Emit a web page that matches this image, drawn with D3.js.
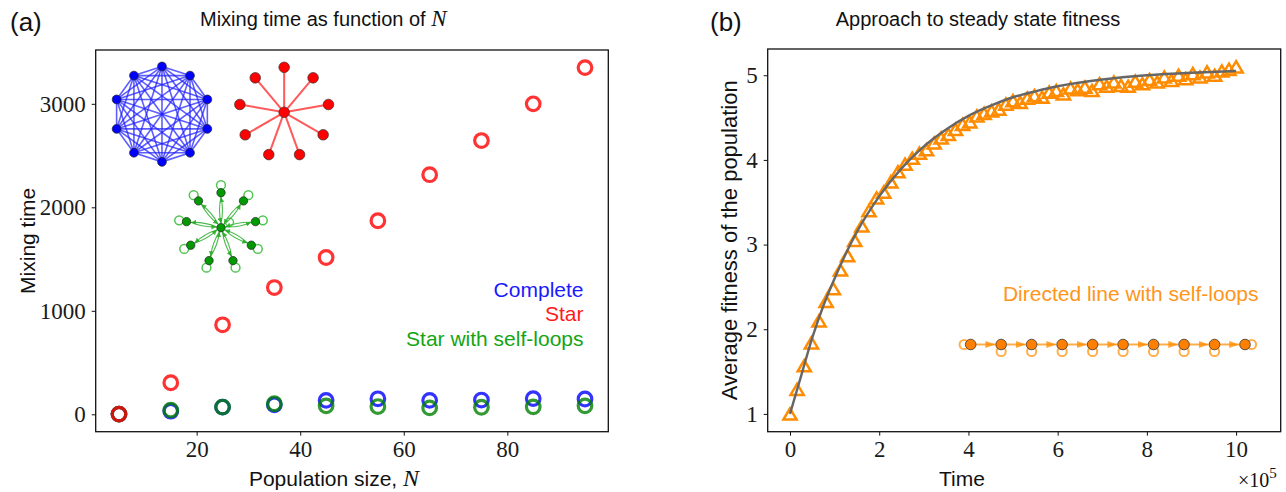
<!DOCTYPE html>
<html>
<head>
<meta charset="utf-8">
<script src="https://cdn.jsdelivr.net/npm/d3@7"></script>
<style>
  body { margin: 0; background: #fff; }
  svg text { font-family: "Liberation Sans", Arial, sans-serif; fill: #111; }
  .tick text { font-family: "Liberation Serif", "Times New Roman", serif; font-size: 23px; fill: #1a1a1a; }
  .tick line { stroke: #111; stroke-width: 1; }
</style>
</head>
<body>
<div id="chart"></div>
<script>
// panel (a): mixing time vs population size
const popSize = [5, 15, 25, 35, 45, 55, 65, 75, 85, 95];
const mixComplete = [2, 30, 70, 92, 135, 150, 135, 138, 152, 148];
const mixSelfLoops = [2, 40, 70, 102, 82, 75, 62, 68, 72, 82];
const mixStar = [2, 305, 865, 1225, 1515, 1870, 2315, 2645, 3000, 3350];
const ticksAx = [20, 40, 60, 80];
const ticksAy = [0, 1000, 2000, 3000];

// panel (b): average fitness over time (time in units of 1e5)
const fitTime = [0, 0.16, 0.32, 0.48, 0.65, 0.81, 0.97, 1.13, 1.29, 1.45, 1.61, 1.77, 1.94, 2.10, 2.26, 2.42,
  2.58, 2.74, 2.90, 3.06, 3.23, 3.39, 3.55, 3.71, 3.87, 4.03, 4.19, 4.35, 4.52, 4.68, 4.84, 5.00,
  5.16, 5.32, 5.48, 5.65, 5.81, 5.97, 6.13, 6.29, 6.45, 6.61, 6.77, 6.94, 7.10, 7.26, 7.42, 7.58,
  7.74, 7.90, 8.06, 8.23, 8.39, 8.55, 8.71, 8.87, 9.03, 9.19, 9.35, 9.52, 9.68, 9.84, 10.00];
const fitValue = [1.00, 1.29, 1.57, 1.84, 2.10, 2.33, 2.48, 2.70, 2.87, 3.05, 3.22, 3.40, 3.55, 3.62, 3.74, 3.86,
  3.95, 4.02, 4.08, 4.12, 4.20, 4.26, 4.30, 4.36, 4.42, 4.45, 4.52, 4.55, 4.58, 4.60, 4.66, 4.70,
  4.68, 4.73, 4.76, 4.74, 4.80, 4.82, 4.78, 4.85, 4.83, 4.86, 4.82, 4.90, 4.87, 4.92, 4.88, 4.87,
  4.93, 4.90, 4.95, 4.92, 4.98, 4.94, 5.00, 4.96, 5.02, 4.98, 5.04, 5.00, 5.05, 5.07, 5.10];
const curveTime = [0, 0.25, 0.5, 0.75, 1, 1.5, 2, 2.5, 3, 3.5, 4, 4.5, 5, 5.5, 6, 7, 8, 9, 10];
const curveValue = [1.0, 1.45, 1.90, 2.28, 2.60, 3.15, 3.57, 3.90, 4.16, 4.36, 4.52, 4.64, 4.74, 4.81, 4.87, 4.95, 5.00, 5.03, 5.05];
const ticksBx = [0, 2, 4, 6, 8, 10];
const ticksBy = [1, 2, 3, 4, 5];

const svg = d3.select("#chart").append("svg")
    .attr("width", 1286)
    .attr("height", 492);
const defs = svg.append("defs");

const A = { left: 95.7, right: 608.3, top: 50, bottom: 431.7 };
const B = { left: 767.7, right: 1280.7, top: 49, bottom: 431.7 };

const xA = d3.scaleLinear().domain([0.5, 99.5]).range([A.left, A.right]);
const yA = d3.scaleLinear().domain([-168, 3520]).range([A.bottom, A.top]);
const xB = d3.scaleLinear().domain([-0.5, 11]).range([B.left, B.right]);
const yB = d3.scaleLinear().domain([0.79, 5.31]).range([B.bottom, B.top]);

function arrowMarker(id, color, len, hw, opacity) {
  defs.append("marker")
      .attr("id", id)
      .attr("viewBox", `0 ${-hw} ${len} ${2 * hw}`)
      .attr("refX", len).attr("refY", 0)
      .attr("markerWidth", len).attr("markerHeight", 2 * hw)
      .attr("markerUnits", "userSpaceOnUse")
      .attr("orient", "auto")
    .append("path")
      .attr("d", `M0,${-hw}L${len},0L0,${hw}Z`)
      .attr("fill", color)
      .attr("fill-opacity", opacity);
}
arrowMarker("arrG", "#22aa22", 5, 2.4, 0.85);
arrowMarker("arrO", "#ff8c00", 10, 3.6, 0.75);

function drawAxes(box, x, y, xt, yt) {
  svg.append("g")
      .attr("transform", `translate(0,${box.bottom})`)
      .call(d3.axisBottom(x).tickValues(xt).tickSize(4).tickPadding(5).tickFormat(d3.format("d")))
      .call(g => g.select(".domain").remove());
  svg.append("g")
      .attr("transform", `translate(${box.left},0)`)
      .call(d3.axisLeft(y).tickValues(yt).tickSize(4).tickPadding(6).tickFormat(d3.format("d")))
      .call(g => g.select(".domain").remove());
  svg.append("rect")
      .attr("x", box.left).attr("y", box.top)
      .attr("width", box.right - box.left).attr("height", box.bottom - box.top)
      .style("fill", "none").style("stroke", "#111").style("stroke-width", 1.3);
}

function ring(cx, cy, r, n) {
  return d3.range(n).map(i => {
    const a = -Math.PI / 2 + i * 2 * Math.PI / n;
    return { x: cx + r * Math.cos(a), y: cy + r * Math.sin(a), a: a };
  });
}

// ---------- panel (a) ----------
drawAxes(A, xA, yA, ticksAx, ticksAy);

// complete graph inset
const kPts = ring(xA(13.3), yA(2900), 47.7, 10);
const kEdges = d3.cross(d3.range(10), d3.range(10)).filter(([i, j]) => i < j);
svg.append("g").selectAll("line").data(kEdges).join("line")
    .attr("x1", d => kPts[d[0]].x).attr("y1", d => kPts[d[0]].y)
    .attr("x2", d => kPts[d[1]].x).attr("y2", d => kPts[d[1]].y)
    .style("stroke", "#2020ff").style("stroke-opacity", 0.72).style("stroke-width", 1.6);
svg.append("g").selectAll("circle").data(kPts).join("circle")
    .attr("cx", d => d.x).attr("cy", d => d.y).attr("r", 4.4)
    .style("fill", "#0000ff").style("stroke", "#222").style("stroke-width", 0.7);

// star inset
const sC = { x: xA(36.9), y: yA(2918) };
const sPts = ring(sC.x, sC.y, 45, 9);
svg.append("g").selectAll("line").data(sPts).join("line")
    .attr("x1", sC.x).attr("y1", sC.y).attr("x2", d => d.x).attr("y2", d => d.y)
    .style("stroke", "#ff2222").style("stroke-opacity", 0.75).style("stroke-width", 2);
svg.append("g").selectAll("circle").data(sPts.concat([sC])).join("circle")
    .attr("cx", d => d.x).attr("cy", d => d.y).attr("r", 5.3)
    .style("fill", "#ff0000").style("stroke", "#333").style("stroke-width", 0.7);

// star with self-loops inset
const gC = { x: xA(24.7), y: yA(1803) };
const gPts = ring(gC.x, gC.y, 35, 9);
const gArcs = [];
gPts.forEach(p => { gArcs.push([gC, p]); gArcs.push([p, gC]); });
const nodeR = 4.2;
svg.append("g").selectAll("path").data(gArcs).join("path")
    .attr("d", ([s, t]) => {
      const dx = t.x - s.x, dy = t.y - s.y, L = Math.hypot(dx, dy);
      const ux = dx / L, uy = dy / L;
      const x1 = s.x + ux * nodeR, y1 = s.y + uy * nodeR;
      const x2 = t.x - ux * (nodeR + 0.5), y2 = t.y - uy * (nodeR + 0.5);
      const mx = (x1 + x2) / 2 - uy * 3, my = (y1 + y2) / 2 + ux * 3;
      return `M${x1},${y1}Q${mx},${my} ${x2},${y2}`;
    })
    .attr("marker-end", "url(#arrG)")
    .style("fill", "none").style("stroke", "#22aa22").style("stroke-opacity", 0.8).style("stroke-width", 1.1);
svg.append("g").selectAll("circle").data(gPts).join("circle")
    .attr("cx", d => d.x + Math.cos(d.a) * 7.5).attr("cy", d => d.y + Math.sin(d.a) * 7.5).attr("r", 4.4)
    .style("fill", "none").style("stroke", "#33bb33").style("stroke-opacity", 0.85).style("stroke-width", 1.5);
svg.append("circle")
    .attr("cx", gC.x + 8.5).attr("cy", gC.y - 5.5).attr("r", 4)
    .style("fill", "none").style("stroke", "#33bb33").style("stroke-opacity", 0.85).style("stroke-width", 1.4);
svg.append("g").selectAll("circle").data(gPts.concat([gC])).join("circle")
    .attr("cx", d => d.x).attr("cy", d => d.y).attr("r", nodeR)
    .style("fill", "#009a00").style("stroke", "#222").style("stroke-width", 0.7);

// mixing-time markers
const seriesA = [
  { vals: mixComplete, color: "#0000ff" },
  { vals: mixSelfLoops, color: "#008000" },
  { vals: mixStar, color: "#ff0000" }
];
seriesA.forEach(s => {
  svg.append("g").selectAll("circle").data(popSize).join("circle")
      .attr("cx", d => xA(d)).attr("cy", (d, i) => yA(s.vals[i])).attr("r", 6.8)
      .style("fill", "none").style("stroke", s.color).style("stroke-opacity", 0.8).style("stroke-width", 3.2);
});

// legend text
const legendA = [["Complete", "#1a1aff", 296.7], ["Star", "#ff1a1a", 321], ["Star with self-loops", "#14a514", 346]];
legendA.forEach(([t, c, y]) => {
  svg.append("text").attr("x", 583.5).attr("y", y).attr("text-anchor", "end")
      .style("font-size", "21px").style("fill", c).text(t);
});

// labels panel (a)
svg.append("text").attr("x", 10).attr("y", 31).style("font-size", "26px").text("(a)");
const titleA = svg.append("text").attr("x", 200).attr("y", 26).style("font-size", "20px");
titleA.append("tspan").text("Mixing time as function of  ");
titleA.append("tspan").style("font-family", "'Liberation Serif', serif").style("font-style", "italic").style("font-size", "23px").text("N");
svg.append("text")
    .attr("transform", `translate(28,${(A.top + A.bottom) / 2}) rotate(-90)`)
    .attr("text-anchor", "middle").attr("dy", "0.35em")
    .style("font-size", "21px").text("Mixing time");
const xlabA = svg.append("text").attr("x", 334).attr("y", 486).attr("text-anchor", "middle").style("font-size", "21px");
xlabA.append("tspan").text("Population size,  ");
xlabA.append("tspan").style("font-family", "'Liberation Serif', serif").style("font-style", "italic").style("font-size", "24px").text("N");

// ---------- panel (b) ----------
drawAxes(B, xB, yB, ticksBx, ticksBy);

// directed line inset
const lineNodes = d3.range(10).map(i => ({ x: xB(4.05) + i * (xB(10.2) - xB(4.05)) / 9, y: yB(1.82) }));
const lnR = 5.3;
svg.append("g").selectAll("line").data(d3.pairs(lineNodes)).join("line")
    .attr("x1", d => d[0].x + lnR).attr("y1", d => d[0].y)
    .attr("x2", d => d[1].x - lnR - 0.5).attr("y2", d => d[1].y)
    .attr("marker-end", "url(#arrO)")
    .style("stroke", "#ff8c00").style("stroke-opacity", 0.7).style("stroke-width", 2);
svg.append("g").selectAll("circle").data(lineNodes).join("circle")
    .attr("cx", (d, i) => i === 0 ? d.x - 6.5 : (i === 9 ? d.x + 6.5 : d.x))
    .attr("cy", (d, i) => (i === 0 || i === 9) ? d.y : d.y + 7)
    .attr("r", 4.6)
    .style("fill", "none").style("stroke", "#ff8c00").style("stroke-opacity", 0.7).style("stroke-width", 2);
svg.append("g").selectAll("circle.node").data(lineNodes).join("circle")
    .attr("cx", d => d.x).attr("cy", d => d.y).attr("r", lnR)
    .style("fill", "#ff8000").style("stroke", "#333").style("stroke-width", 0.8);
svg.append("text").attr("x", 1258.5).attr("y", 301).attr("text-anchor", "end")
    .style("font-size", "21px").style("fill", "#ff951a").text("Directed line with self-loops");

// triangles
svg.append("g").selectAll("path").data(fitTime).join("path")
    .attr("transform", (d, i) => `translate(${xB(d)},${yB(fitValue[i])})`)
    .attr("d", "M0,-5.6L6.6,5.6L-6.6,5.6Z")
    .style("fill", "none").style("stroke", "#ff8c00").style("stroke-width", 2.5);

// fitted curve
const curveLine = d3.line()
    .x((d, i) => xB(d))
    .y((d, i) => yB(curveValue[i]))
    .curve(d3.curveMonotoneX);
svg.append("path")
    .datum(curveTime)
    .attr("d", curveLine)
    .style("fill", "none").style("stroke", "#666").style("stroke-width", 2.4);

// labels panel (b)
svg.append("text").attr("x", 710).attr("y", 31).style("font-size", "26px").text("(b)");
svg.append("text").attr("x", 978).attr("y", 26).attr("text-anchor", "middle")
    .style("font-size", "20px").text("Approach to steady state fitness");
svg.append("text")
    .attr("transform", `translate(729,${(B.top + B.bottom) / 2}) rotate(-90)`)
    .attr("text-anchor", "middle").attr("dy", "0.35em")
    .style("font-size", "22px").text("Average fitness of the population");
svg.append("text").attr("x", 962).attr("y", 486).attr("text-anchor", "middle")
    .style("font-size", "21px").text("Time");
const expo = svg.append("text").attr("x", 1238).attr("y", 487)
    .style("font-family", "'Liberation Serif', serif").style("font-size", "20px");
expo.append("tspan").text("×10");
expo.append("tspan").attr("dy", -9).style("font-size", "15px").text("5");
</script>
</body>
</html>
